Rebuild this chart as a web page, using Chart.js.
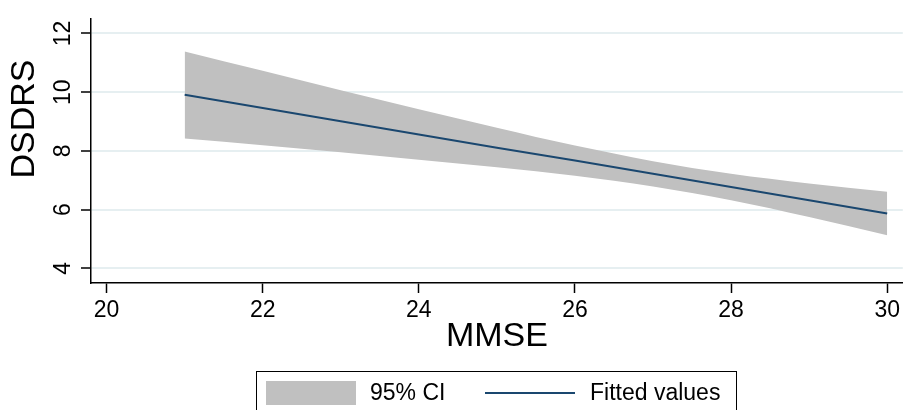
<!DOCTYPE html>
<html lang="en">
<head>
  <meta charset="UTF-8" />
  <title>DSDRS vs MMSE</title>
  <script src="https://cdn.jsdelivr.net/npm/chart.js"></script>
  <style>
    body { margin: 0; background: #fff; overflow: hidden; }
    #wrap { position: relative; width: 904px; height: 410px; }
    #legend {
      position: absolute; left: 256px; top: 371px; width: 481px; height: 50px;
      border: 1px solid #000; box-sizing: border-box;
      font-family: "Liberation Sans", Arial, sans-serif; font-size: 23px; color: #000;
    }
    #legend .sw { position: absolute; left: 9px; top: 9px; width: 90px; height: 24px; background: #c0c0c0; }
    #legend .ln { position: absolute; left: 228px; top: 20px; width: 90px; height: 2px; background: #1a476f; }
    #legend .tx { position: absolute; top: 7px; line-height: 26px; white-space: nowrap; }
  </style>
</head>
<body>
  <div id="wrap">
    <canvas id="chart" width="904" height="410"></canvas>
    <div id="legend">
      <div class="sw"></div><div class="tx" style="left:113px">95% CI</div>
      <div class="ln"></div><div class="tx" style="left:333px">Fitted values</div>
    </div>
  </div>

  <script>
    // values
    const mmse = [21, 22, 23, 24, 25, 26, 27, 28, 29, 30];
    const fitted = [9.91, 9.46, 9.01, 8.56, 8.11, 7.67, 7.22, 6.77, 6.32, 5.87];
    const ciUpper = [11.39, 10.73, 10.07, 9.42, 8.79, 8.18, 7.65, 7.22, 6.89, 6.61];
    const ciLower = [8.42, 8.19, 7.95, 7.70, 7.44, 7.15, 6.79, 6.32, 5.75, 5.13];
    const xTicks = [20, 22, 24, 26, 28, 30];
    const yTicks = [4, 6, 8, 10, 12];

    const pts = arr => mmse.map((x, i) => ({ x: x, y: arr[i] }));
    const font = 'Liberation Sans, Arial, sans-serif';

    // y title sits above the middle of the axis in the original
    const yTitle = {
      id: 'yTitle',
      afterDraw(chart) {
        const ctx = chart.ctx;
        ctx.save();
        ctx.translate(25, 119);
        ctx.rotate(-Math.PI / 2);
        ctx.font = '34px ' + font;
        ctx.fillStyle = '#000';
        ctx.textAlign = 'center';
        ctx.textBaseline = 'middle';
        ctx.fillText('DSDRS', 0, 0);
        ctx.restore();
      }
    };

    new Chart(document.getElementById('chart'), {
      type: 'line',
      data: {
        datasets: [
          {
            label: 'Fitted values', data: pts(fitted), order: 0,
            borderColor: '#1a476f', borderWidth: 2, pointRadius: 0, fill: false
          },
          {
            label: 'lower', data: pts(ciLower), order: 2,
            borderWidth: 0, borderColor: 'rgba(0,0,0,0)', pointRadius: 0, fill: false,
            cubicInterpolationMode: 'monotone'
          },
          {
            label: '95% CI', data: pts(ciUpper), order: 1,
            borderWidth: 0, borderColor: 'rgba(0,0,0,0)', pointRadius: 0,
            backgroundColor: '#c0c0c0', fill: 1,
            cubicInterpolationMode: 'monotone'
          }
        ]
      },
      options: {
        responsive: false,
        animation: false,
        layout: { padding: { top: 17, right: 1, left: 0, bottom: 0 } },
        plugins: { legend: { display: false }, tooltip: { enabled: false } },
        scales: {
          x: {
            type: 'linear', min: 19.8, max: 30.2,
            afterBuildTicks: s => { s.ticks = xTicks.map(v => ({ value: v })); },
            afterFit: s => { s.height = 127; },
            grid: { drawOnChartArea: false, tickLength: 10, tickColor: '#000', tickWidth: 1.5 },
            border: { display: true, color: '#000', width: 1.5 },
            ticks: { color: '#000', font: { family: font, size: 23 }, padding: 4, maxRotation: 0 },
            title: { display: true, text: 'MMSE', color: '#000', font: { family: font, size: 34 }, padding: { top: 0, bottom: 53 } }
          },
          y: {
            type: 'linear', min: 3.5, max: 12.5,
            afterBuildTicks: s => { s.ticks = yTicks.map(v => ({ value: v })); },
            afterFit: s => { s.width = 91; },
            grid: { color: '#e6eff1', lineWidth: 2, tickLength: 10, tickColor: '#000', tickWidth: 1.5 },
            border: { display: true, color: '#000', width: 1.5 },
            ticks: { color: '#000', font: { family: font, size: 23 }, padding: 5, minRotation: 90, maxRotation: 90, crossAlign: 'center' }
          }
        }
      },
      plugins: [yTitle]
    });
  </script>
</body>
</html>
